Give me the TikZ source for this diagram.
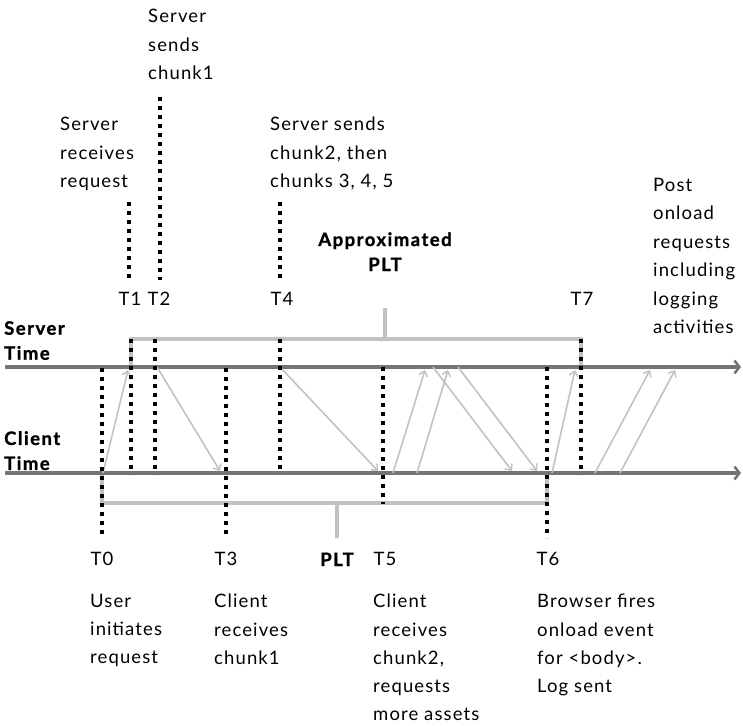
\documentclass[tikz,border=0pt]{standalone}
\usepackage{fontspec}
\setmainfont{Lato}[LetterSpace=6]
\newfontfamily\headfont{Lato}[LetterSpace=8, BoldFeatures={FakeBold=1.2}]
\usetikzlibrary{arrows.meta}
\definecolor{axisgray}{gray}{0.46}
\definecolor{pale}{gray}{0.76}
\begin{document}
\begin{tikzpicture}[x=1pt,y=-1pt,
  every node/.style={inner sep=0pt, font=\fontsize{18.5}{28.5}\selectfont},
  note/.style={anchor=north west, align=left},
  lownote/.style={anchor=north west, align=left, font=\fontsize{18.5}{28.2}\selectfont},
  tlabel/.style={anchor=base},
  axislabel/.style={anchor=north west, align=left, font=\headfont\fontsize{18.5}{25}\selectfont\bfseries},
  spanlabel/.style={anchor=base, align=center, font=\headfont\fontsize{18.5}{25}\selectfont\bfseries},
  timeline/.style={draw=axisgray, line width=4pt, -{Straight Barb[length=5pt,width=13pt,line width=2.5pt]}},
  marker/.style={draw=black, line width=3.5pt, dash pattern=on 3.5pt off 5.5pt},
  bracket/.style={draw=pale, line width=3.5pt},
  msg/.style={draw=pale, line width=1.6pt, -{Straight Barb[length=5pt,width=9pt,line width=1.4pt]}}
]
\useasboundingbox (0,0) rectangle (743,725);

% time axes
\coordinate (s0) at (5,367);  \coordinate (s1) at (741,367);
\coordinate (c0) at (5,473);  \coordinate (c1) at (741,473);

% spans (drawn beneath the markers)
\coordinate (a0) at (131,367); \coordinate (a1) at (131,339);
\coordinate (a2) at (581,339); \coordinate (a3) at (581,367);
\coordinate (am) at (385,339); \coordinate (at) at (385,308);
\draw[bracket] (a0) -- (a1) -- (a2) -- (a3);
\draw[bracket] (am) -- (at);

\coordinate (p0) at (102,473); \coordinate (p1) at (102,503);
\coordinate (p2) at (547,503); \coordinate (p3) at (547,473);
\coordinate (pm) at (337,503); \coordinate (pt) at (337,538);
\draw[bracket] (p0) -- (p1) -- (p2) -- (p3);
\draw[bracket] (pm) -- (pt);

\draw[timeline] (s0) -- (s1);
\draw[timeline] (c0) -- (c1);

% messages between client and server
\coordinate (m1a) at (103,473); \coordinate (m1b) at (128,370);
\coordinate (m2a) at (157,367); \coordinate (m2b) at (220,471);
\coordinate (m3a) at (280,367); \coordinate (m3b) at (378,471);
\coordinate (m4a) at (393,473); \coordinate (m4b) at (425,370);
\coordinate (m5a) at (417,473); \coordinate (m5b) at (448,370);
\coordinate (m6a) at (433,367); \coordinate (m6b) at (512,471);
\coordinate (m7a) at (458,367); \coordinate (m7b) at (537,471);
\coordinate (m8a) at (552,473); \coordinate (m8b) at (575,370);
\coordinate (m9a) at (595,473); \coordinate (m9b) at (650,370);
\coordinate (mAa) at (620,473); \coordinate (mAb) at (675,370);
\foreach \m in {m1,m2,m3,m4,m5,m6,m7,m8,m9,mA}
  \draw[msg] (\m a) -- (\m b);

% event markers
\coordinate (t0a) at (102,368); \coordinate (t0b) at (102,536);
\coordinate (t1u) at (129,202); \coordinate (t1v) at (129,280);
\coordinate (t1a) at (131,339); \coordinate (t1b) at (131,474);
\coordinate (t2u) at (160,97);  \coordinate (t2v) at (160,280);
\coordinate (t2a) at (155,339); \coordinate (t2b) at (155,474);
\coordinate (t3a) at (226,368); \coordinate (t3b) at (226,536);
\coordinate (t4u) at (280,202); \coordinate (t4v) at (280,280);
\coordinate (t4a) at (280,339); \coordinate (t4b) at (280,474);
\coordinate (t5a) at (383,367); \coordinate (t5b) at (383,504);
\coordinate (t6a) at (547,367); \coordinate (t6b) at (547,538);
\coordinate (t7a) at (581,339); \coordinate (t7b) at (581,474);
\foreach \p/\q in {t0a/t0b,t1u/t1v,t1a/t1b,t2u/t2v,t2a/t2b,t3a/t3b,t4u/t4v,t4a/t4b,t5a/t5b,t6a/t6b,t7a/t7b}
  \draw[marker] (\p) -- (\q);

% axis names
\node[axislabel] (srv) at (4,321) {Server\\Time};
\node[axislabel] (cli) at (4,431) {Client\\Time};

% span names
\node[spanlabel] (apl) at (385,271) {Approximated\\PLT};
\node[spanlabel] (pl) at (337,566) {PLT};

% event names
\node[tlabel] (T0) at (102,565) {T0};
\node[tlabel] (T1) at (130,305) {T1};
\node[tlabel] (T2) at (159,305) {T2};
\node[tlabel] (T3) at (226,565) {T3};
\node[tlabel] (T4) at (282,305) {T4};
\node[tlabel] (T5) at (385,565) {T5};
\node[tlabel] (T6) at (548,565) {T6};
\node[tlabel] (T7) at (582,305) {T7};

% event descriptions
\node[note] (d2) at (148,9) {Server\\sends\\chunk1};
\node[note] (d1) at (60,117) {Server\\receives\\request};
\node[note] (d4) at (270,117) {Server sends\\chunk2, then\\chunks 3, 4, 5};
\node[note] (d7) at (653,178) {Post\\onload\\requests\\including\\logging\\activities};
\node[lownote] (d0) at (90,594) {User\\initiates\\request};
\node[lownote] (d3) at (214,594) {Client\\receives\\chunk1};
\node[lownote] (d5) at (373,594) {Client\\receives\\chunk2,\\requests\\more assets};
\node[lownote] (d6) at (537,594) {Browser fires\\onload event\\for <body>.\\Log sent};
\end{tikzpicture}
\end{document}
